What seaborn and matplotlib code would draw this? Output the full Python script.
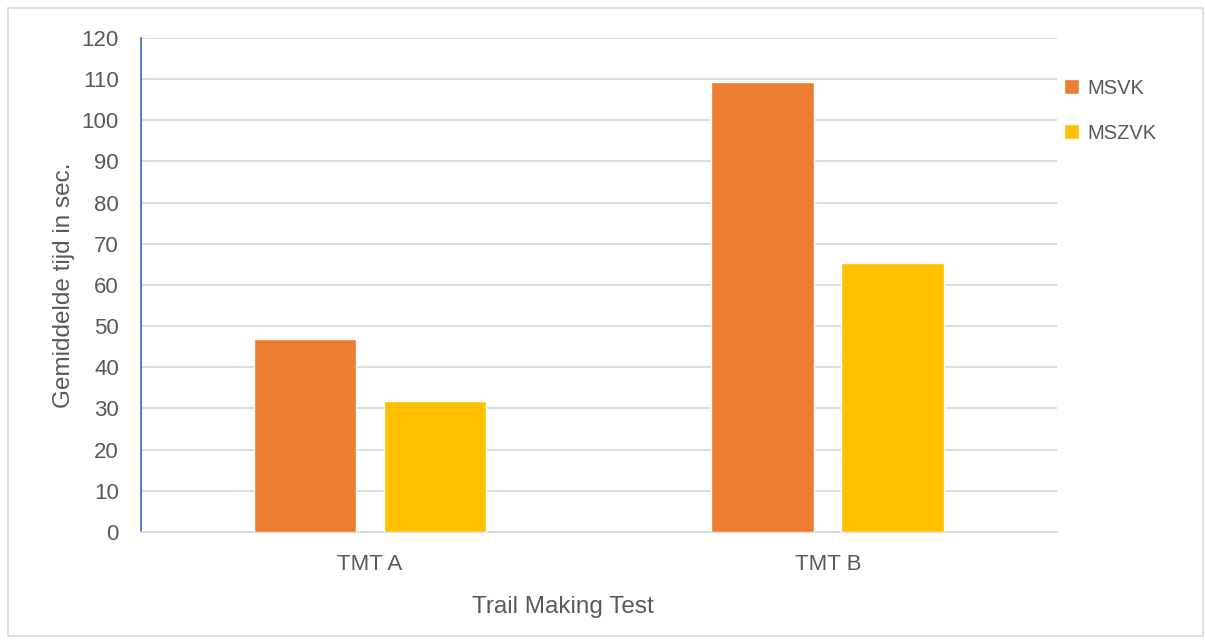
import matplotlib
matplotlib.use("Agg")
import matplotlib.pyplot as plt
import seaborn as sns
import pandas as pd
from matplotlib.patches import Rectangle

# Mean completion times (seconds) per Trail Making Test part
tests = ["TMT A", "TMT B"]
groups = ["MSVK", "MSZVK"]
msvk = [46.8, 109.3]
mszvk = [31.9, 65.4]
y_ticks = list(range(0, 121, 10))

df = pd.DataFrame({
    "test": tests * 2,
    "groep": [groups[0]] * 2 + [groups[1]] * 2,
    "tijd": msvk + mszvk,
})

sns.set_theme(style="white")
plt.rcParams["font.family"] = ["Liberation Sans", "DejaVu Sans"]
text_color = "#595959"
grid_color = "#D9D9D9"

fig = plt.figure(figsize=(12.05, 6.44), dpi=100)
ax = fig.add_axes([0.117, 0.174, 0.760, 0.767])

sns.barplot(
    data=df, x="test", y="tijd", hue="groep", order=tests, hue_order=groups,
    palette=["#ED7D31", "#FFC000"], width=0.568, gap=0.21, saturation=1,
    ax=ax, zorder=3, legend=True,
)

ax.set_xlim(-0.5, 1.5)
ax.set_ylim(0, 120)
ax.set_yticks(y_ticks)
ax.yaxis.grid(True, color=grid_color, linewidth=1.3, zorder=0)
ax.set_axisbelow(True)
ax.tick_params(axis="both", length=0, labelsize=16, labelcolor=text_color)
ax.tick_params(axis="y", pad=16)
ax.tick_params(axis="x", pad=16)

for side in ["top", "right"]:
    ax.spines[side].set_visible(False)
ax.spines["left"].set_color("#4472C4")
ax.spines["left"].set_linewidth(1.3)
ax.spines["bottom"].set_color(grid_color)
ax.spines["bottom"].set_linewidth(1.3)

ax.set_xlabel("Trail Making Test", fontsize=17.5, color=text_color, labelpad=15, x=0.461)
ax.set_ylabel("Gemiddelde tijd in sec.", fontsize=17.5, color=text_color, labelpad=5)

handles, labels = ax.get_legend_handles_labels()
ax.get_legend().remove()
fig.legend(
    handles, labels, loc="upper left", bbox_to_anchor=(0.868, 0.906),
    frameon=False, fontsize=14.5, labelcolor=text_color,
    handlelength=0.75, handleheight=0.75, handletextpad=0.4, labelspacing=1.3,
)

# Light frame around the whole chart area
fig.patches.append(Rectangle((0.007, 0.012), 0.991, 0.976, transform=fig.transFigure,
                             fill=False, edgecolor="#D9D9D9", linewidth=1.2))

fig.savefig("out.png", dpi=100)
